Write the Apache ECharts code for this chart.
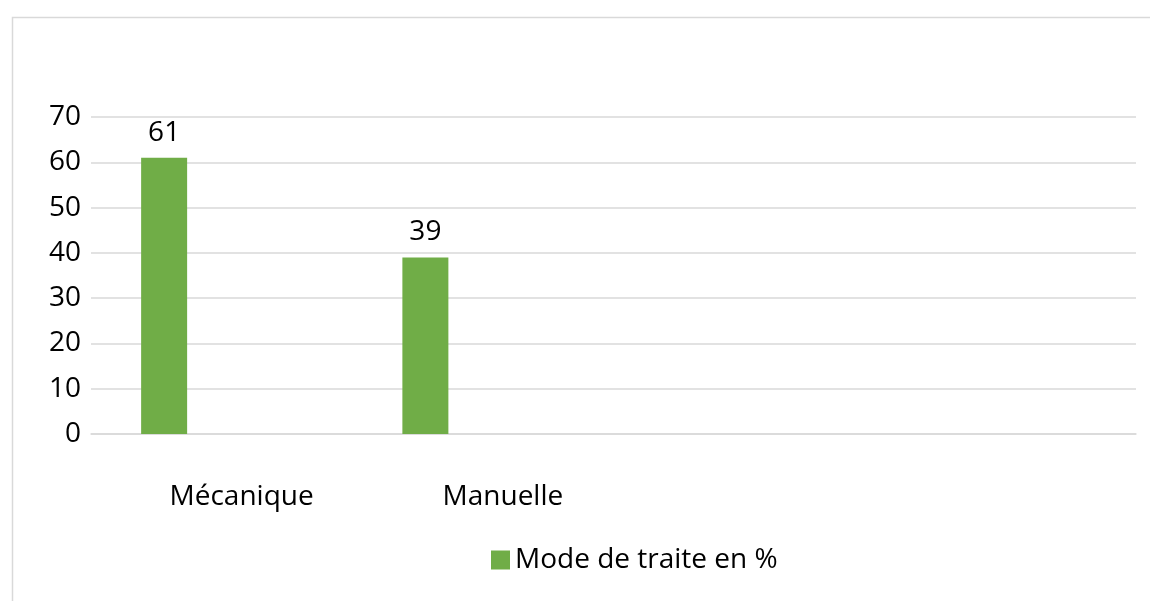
<!DOCTYPE html>
<html>
<head>
<meta charset="utf-8">
<script src="https://cdn.jsdelivr.net/npm/echarts@6/dist/echarts.min.js"></script>
<style>
  html, body { margin: 0; padding: 0; background: #fff; }
  #myChart { width: 1150px; height: 601px; }
</style>
</head>
<body>
<div id="myChart"></div>
<script>
// categories (the last two slots are empty in the original chart)
var categories = ['Mécanique', 'Manuelle', '', '']
var modeValues = [61, 39, '-', '-']
var seriesName = 'Mode de traite en %'
var yTicks = { min: 0, max: 70, step: 10 }

var green = '#70ad47'
var gridColor = '#d9d9d9'
var textFont = '"Open Sans", sans-serif'

var myChart = echarts.init(document.getElementById('myChart'))

var option = {
  animation: false,
  backgroundColor: '#fff',
  textStyle: { fontFamily: textFont },
  graphic: [
    {
      type: 'rect',
      left: 10,
      top: 15,
      shape: { width: 1160, height: 620 },
      style: { fill: 'none', stroke: gridColor, lineWidth: 1.5 },
      silent: true
    }
  ],
  grid: {
    left: 91,
    right: 14,
    top: 117,
    bottom: 167
  },
  legend: {
    data: [seriesName],
    left: 486,
    top: 541,
    icon: 'rect',
    itemWidth: 19,
    itemHeight: 19,
    itemGap: 8,
    textStyle: { fontSize: 28, color: '#000', fontFamily: textFont }
  },
  xAxis: {
    type: 'category',
    data: categories,
    axisTick: { show: false },
    axisLine: { lineStyle: { color: gridColor, width: 1.5 } },
    axisLabel: {
      color: '#000',
      fontSize: 28,
      fontFamily: textFont,
      margin: 49,
      padding: [0, 0, 0, 40],
      interval: 0
    }
  },
  yAxis: {
    type: 'value',
    min: yTicks.min,
    max: yTicks.max,
    interval: yTicks.step,
    axisLine: { show: false },
    axisTick: { show: false },
    splitLine: { lineStyle: { color: gridColor, width: 1.5 } },
    axisLabel: {
      color: '#000',
      fontSize: 28,
      fontFamily: textFont,
      margin: 10
    }
  },
  series: [
    {
      name: seriesName,
      type: 'bar',
      barWidth: 46,
      barGap: '150%',
      itemStyle: { color: green },
      label: {
        show: true,
        position: 'top',
        distance: 11,
        color: '#000',
        fontSize: 28,
        fontFamily: textFont
      },
      data: modeValues
    },
    {
      name: 'vide',
      type: 'bar',
      barWidth: 46,
      data: []
    }
  ]
}
myChart.setOption(option, true)
</script>
</body>
</html>
